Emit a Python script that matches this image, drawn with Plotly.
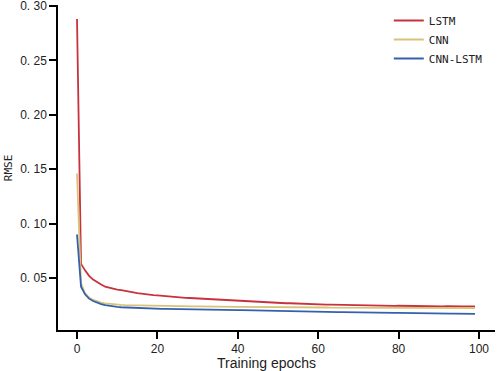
import plotly.graph_objects as go

epochs = list(range(100))

lstm = [0.288, 0.063, 0.057, 0.052, 0.0485, 0.046, 0.044, 0.042, 0.041, 0.040,
        0.0394, 0.0388, 0.0380, 0.0372, 0.0366, 0.0360, 0.0356, 0.0350, 0.0346, 0.0343,
        0.0340, 0.0336, 0.0333, 0.0330, 0.0326, 0.0323, 0.0321, 0.0318, 0.0316, 0.0314,
        0.0312, 0.0310, 0.0307, 0.0305, 0.0302, 0.0300, 0.0298, 0.0295, 0.0292, 0.0290,
        0.0288, 0.0285, 0.0282, 0.0280, 0.0279, 0.0277, 0.0276, 0.0276, 0.0274, 0.0272,
        0.0271, 0.0270, 0.0268, 0.0268, 0.0266, 0.0264, 0.0263, 0.0262, 0.0261, 0.0259,
        0.0258, 0.0257, 0.0256, 0.0256, 0.0255, 0.0253, 0.0252, 0.0252, 0.0251, 0.0250,
        0.0249, 0.0250, 0.0248, 0.0247, 0.0246, 0.0247, 0.0246, 0.0245, 0.0245, 0.0244,
        0.0245, 0.0244, 0.0243, 0.0243, 0.0242, 0.0243, 0.0242, 0.0241, 0.0242, 0.0241,
        0.0240, 0.0240, 0.0241, 0.0242, 0.0240, 0.0239, 0.0240, 0.0239, 0.0239, 0.0240]

cnn = [0.146, 0.045, 0.036, 0.032, 0.0298, 0.0283, 0.0273, 0.0266, 0.0261, 0.0257,
       0.0254, 0.0252, 0.0250, 0.0249, 0.0248, 0.0247, 0.0246, 0.0245, 0.0244, 0.0243,
       0.0243, 0.0242, 0.0242, 0.0241, 0.0241, 0.0240, 0.0240, 0.0240, 0.0239, 0.0239,
       0.0239, 0.0238, 0.0238, 0.0238, 0.0237, 0.0237, 0.0237, 0.0236, 0.0236, 0.0236,
       0.0235, 0.0235, 0.0235, 0.0234, 0.0234, 0.0234, 0.0233, 0.0233, 0.0233, 0.0232,
       0.0232, 0.0232, 0.0231, 0.0231, 0.0231, 0.0230, 0.0230, 0.0230, 0.0230, 0.0229,
       0.0229, 0.0229, 0.0229, 0.0228, 0.0228, 0.0228, 0.0228, 0.0228, 0.0227, 0.0227,
       0.0227, 0.0227, 0.0227, 0.0227, 0.0226, 0.0226, 0.0226, 0.0226, 0.0226, 0.0226,
       0.0226, 0.0225, 0.0225, 0.0225, 0.0225, 0.0225, 0.0225, 0.0225, 0.0225, 0.0225,
       0.0225, 0.0225, 0.0225, 0.0225, 0.0225, 0.0225, 0.0224, 0.0224, 0.0224, 0.0224]

cnn_lstm = [0.090, 0.042, 0.035, 0.031, 0.0288, 0.0272, 0.0260, 0.0250, 0.0243, 0.0238,
            0.0234, 0.0231, 0.0229, 0.0228, 0.0226, 0.0225, 0.0223, 0.0222, 0.0221, 0.0220,
            0.0218, 0.0217, 0.0217, 0.0216, 0.0215, 0.0214, 0.0214, 0.0213, 0.0213, 0.0212,
            0.0211, 0.0211, 0.0210, 0.0210, 0.0209, 0.0208, 0.0208, 0.0207, 0.0207, 0.0206,
            0.0205, 0.0205, 0.0204, 0.0203, 0.0203, 0.0202, 0.0201, 0.0200, 0.0200, 0.0199,
            0.0198, 0.0197, 0.0197, 0.0196, 0.0195, 0.0194, 0.0194, 0.0193, 0.0192, 0.0191,
            0.0190, 0.0190, 0.0189, 0.0189, 0.0188, 0.0187, 0.0187, 0.0186, 0.0186, 0.0185,
            0.0185, 0.0184, 0.0184, 0.0183, 0.0183, 0.0182, 0.0182, 0.0181, 0.0181, 0.0180,
            0.0180, 0.0179, 0.0179, 0.0178, 0.0178, 0.0177, 0.0177, 0.0176, 0.0176, 0.0175,
            0.0175, 0.0174, 0.0174, 0.0173, 0.0173, 0.0172, 0.0172, 0.0171, 0.0171, 0.0170]

series_names = ["LSTM", "CNN", "CNN-LSTM"]
series_colors = ["#c8323c", "#d9c27a", "#3461ad"]

y_tick_vals = [0.05, 0.10, 0.15, 0.20, 0.25, 0.30]
y_tick_text = ["0. 05", "0. 10", "0. 15", "0. 20", "0. 25", "0. 30"]
x_tick_vals = [0, 20, 40, 60, 80, 100]

fig = go.Figure()
for name, ys, col in zip(series_names, [lstm, cnn, cnn_lstm], series_colors):
    fig.add_trace(go.Scatter(x=epochs, y=ys, mode="lines", name=name,
                             line=dict(color=col, width=1.8)))

fig.update_layout(
    width=498, height=371,
    margin=dict(l=58, r=3, t=5, b=41),
    paper_bgcolor="white", plot_bgcolor="white",
    font=dict(family="Liberation Sans, Arial, sans-serif", size=12, color="#222"),
    showlegend=True,
    legend=dict(x=0.757, y=0.997, xanchor="left", yanchor="top",
                bgcolor="rgba(0,0,0,0)",
                font=dict(family="DejaVu Sans Mono, monospace", size=11, color="#222"),
                tracegroupgap=0, itemwidth=30),
)
fig.update_xaxes(range=[-4.73, 103.98], tickvals=x_tick_vals, showgrid=False,
                 zeroline=False, showline=True, linecolor="black", linewidth=1.5,
                 ticks="outside", ticklen=7, tickwidth=1.5, tickcolor="black",
                 tickfont=dict(size=12, color="#222"), automargin=False,
                 ticklabeloverflow="allow")
fig.update_yaxes(range=[0.0022, 0.3009], tickvals=y_tick_vals, ticktext=y_tick_text,
                 showgrid=False, zeroline=False, showline=True, linecolor="black",
                 linewidth=1.5, ticks="outside", ticklen=7, tickwidth=1.5,
                 tickcolor="black", tickfont=dict(size=12, color="#222"), automargin=False,
                 ticklabeloverflow="allow")

fig.add_annotation(text="Training epochs", xref="paper", yref="paper",
                   x=0.477, y=-0.102, xanchor="center", yanchor="middle",
                   showarrow=False, font=dict(size=14, color="#222"))
fig.add_annotation(text="RMSE", xref="paper", yref="paper", textangle=-90,
                   x=-0.1144, y=0.498, xanchor="center", yanchor="middle",
                   showarrow=False,
                   font=dict(family="DejaVu Sans Mono, monospace", size=11, color="#222"))

fig.write_html("out.html", config={"displayModeBar": False},
               post_script="document.body.style.margin='0';document.body.style.overflow='hidden';")
